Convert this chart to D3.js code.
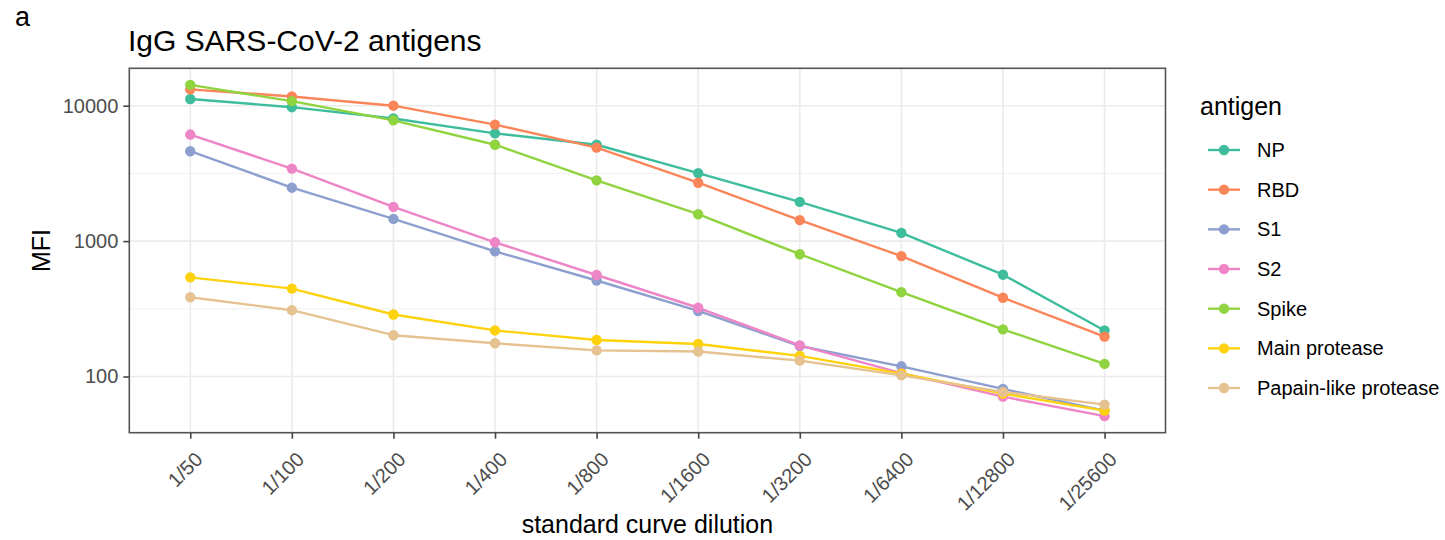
<!DOCTYPE html>
<html>
<head>
<meta charset="utf-8">
<script src="https://cdn.jsdelivr.net/npm/d3@7"></script>
<style>
  html, body { margin: 0; padding: 0; background: #fff; }
  svg { display: block; font-family: "Liberation Sans", Arial, Helvetica, sans-serif; }
</style>
</head>
<body>
<svg id="chart" width="1445" height="540"></svg>
<script>
// ---- data ----
const dilutions = ["1/50","1/100","1/200","1/400","1/800","1/1600","1/3200","1/6400","1/12800","1/25600"];
const antigens = ["NP","RBD","S1","S2","Spike","Main protease","Papain-like protease"];
const NP      = [11200, 9750, 8050, 6250, 5150, 3180, 1950, 1150, 565, 219];
const RBD     = [13200, 11700, 10000, 7250, 4900, 2700, 1430, 775, 382, 197];
const S1      = [4610, 2480, 1460, 840, 512, 305, 168, 119, 81, 56];
const S2      = [6120, 3430, 1790, 980, 562, 322, 170, 106, 71, 51];
const Spike   = [14250, 10800, 7800, 5150, 2810, 1580, 800, 420, 223, 124];
const MainPro = [540, 446, 287, 219, 186, 174, 142, 105, 75, 56];
const Papain  = [385, 309, 202, 176, 156, 153, 131, 102, 77, 62];
const yTicks = [100, 1000, 10000];
const yMinor = [Math.pow(10, 2.5), Math.pow(10, 3.5)];
const colors = ["#3dbd9c", "#fa8558", "#8c9fce", "#ee85c6", "#8fd33f", "#fdd20c", "#e5c290"];

const seriesValues = [NP, RBD, S1, S2, Spike, MainPro, Papain];
const series = antigens.map((name, i) => ({
  name, color: colors[i],
  values: dilutions.map((d, j) => ({ d, v: seriesValues[i][j] }))
}));

// ---- layout ----
const svg = d3.select("#chart");
const P = { left: 129.3, right: 1165.5, top: 68.3, bottom: 432.7 };
const FONT = "'Liberation Sans', Arial, Helvetica, sans-serif";

const x = d3.scalePoint().domain(dilutions).range([P.left, P.right]).padding(0.6);

const allVals = seriesValues.flat();
const lmin = Math.log10(d3.min(allVals)), lmax = Math.log10(d3.max(allVals));
const ex = (lmax - lmin) * 0.05;
const y = d3.scaleLog().domain([Math.pow(10, lmin - ex), Math.pow(10, lmax + ex)]).range([P.bottom, P.top]);

// panel background
svg.append("rect").attr("x", P.left).attr("y", P.top)
  .attr("width", P.right - P.left).attr("height", P.bottom - P.top).attr("fill", "#fff");

// grid
const grid = svg.append("g");
grid.selectAll(".ymin").data(yMinor).join("line")
  .attr("x1", P.left).attr("x2", P.right)
  .attr("y1", d => y(d)).attr("y2", d => y(d))
  .attr("stroke", "#f0f0f0").attr("stroke-width", 1);
grid.selectAll(".ymaj").data(yTicks).join("line")
  .attr("x1", P.left).attr("x2", P.right)
  .attr("y1", d => y(d)).attr("y2", d => y(d))
  .attr("stroke", "#ebebeb").attr("stroke-width", 1.6);
grid.selectAll(".xmaj").data(dilutions).join("line")
  .attr("x1", d => x(d)).attr("x2", d => x(d))
  .attr("y1", P.top).attr("y2", P.bottom)
  .attr("stroke", "#ebebeb").attr("stroke-width", 1.6);

// lines
const line = d3.line().x(p => x(p.d)).y(p => y(p.v));
svg.append("g").selectAll("path").data(series).join("path")
  .attr("d", s => line(s.values))
  .attr("fill", "none").attr("stroke", s => s.color).attr("stroke-width", 2.4)
  .attr("stroke-linejoin", "round");

// points
svg.append("g").selectAll("g").data(series).join("g")
  .attr("fill", s => s.color)
  .selectAll("circle").data(s => s.values).join("circle")
  .attr("cx", p => x(p.d)).attr("cy", p => y(p.v)).attr("r", 5.2);

// panel border
svg.append("rect").attr("x", P.left).attr("y", P.top)
  .attr("width", P.right - P.left).attr("height", P.bottom - P.top)
  .attr("fill", "none").attr("stroke", "#555").attr("stroke-width", 1.6);

// y axis
const yAxis = d3.axisLeft(y).tickValues(yTicks).tickFormat(d3.format("d")).tickSize(6).tickPadding(5);
const gy = svg.append("g").attr("transform", `translate(${P.left},0)`).call(yAxis);
gy.select(".domain").remove();
gy.selectAll(".tick line").attr("stroke", "#444").attr("stroke-width", 1.6);
gy.selectAll(".tick text").attr("fill", "#4d4d4d").style("font-size", "20px").style("font-family", FONT);

// x axis
const xAxis = d3.axisBottom(x).tickSize(6).tickPadding(0);
const gx = svg.append("g").attr("transform", `translate(0,${P.bottom})`).call(xAxis);
gx.select(".domain").remove();
gx.selectAll(".tick line").attr("stroke", "#444").attr("stroke-width", 1.6);
gx.selectAll(".tick text")
  .attr("fill", "#4d4d4d").style("font-size", "20px").style("font-family", FONT)
  .attr("text-anchor", "end").attr("dy", null).attr("y", null)
  .attr("transform", "translate(13,28) rotate(-45)");

// axis titles
svg.append("text").attr("x", (P.left + P.right) / 2).attr("y", 533)
  .attr("text-anchor", "middle").style("font-size", "25px").attr("fill", "#000")
  .text("standard curve dilution");
svg.append("text").attr("transform", `translate(50,${(P.top + P.bottom) / 2}) rotate(-90)`)
  .attr("text-anchor", "middle").style("font-size", "25px").attr("fill", "#000")
  .text("MFI");

// title and tag
svg.append("text").attr("x", 128).attr("y", 50.5).style("font-size", "30px").attr("fill", "#000")
  .text("IgG SARS-CoV-2 antigens");
svg.append("text").attr("x", 15).attr("y", 26).style("font-size", "27px").attr("fill", "#000")
  .text("a");

// legend
const L = { x: 1200, titleY: 115, firstY: 150, step: 39.67, keyX1: 1208, keyX2: 1240, labelX: 1257 };
const leg = svg.append("g");
leg.append("text").attr("x", L.x).attr("y", L.titleY).style("font-size", "25px").attr("fill", "#000").text("antigen");
const items = leg.selectAll("g.item").data(series).join("g")
  .attr("transform", (s, i) => `translate(0,${L.firstY + i * L.step})`);
items.append("line").attr("x1", L.keyX1).attr("x2", L.keyX2).attr("y1", 0).attr("y2", 0)
  .attr("stroke", s => s.color).attr("stroke-width", 2.4);
items.append("circle").attr("cx", (L.keyX1 + L.keyX2) / 2).attr("cy", 0).attr("r", 5.2).attr("fill", s => s.color);
items.append("text").attr("x", L.labelX).attr("y", 0).attr("dy", "0.35em")
  .style("font-size", "20px").attr("fill", "#000").text(s => s.name);
</script>
</body>
</html>
